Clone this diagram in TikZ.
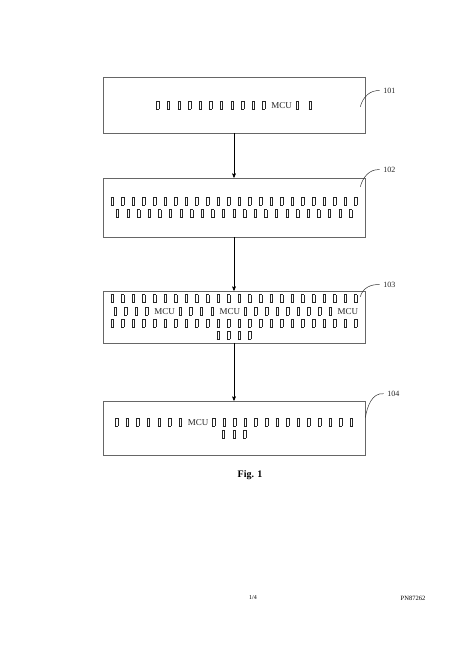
\documentclass[tikz,border=0pt]{standalone}
\usepackage{fontspec}
\setmainfont{Liberation Serif}
\usetikzlibrary{arrows,positioning}
% empty glyph box, as the scan prints the missing characters
\newcommand{\tf}{\makebox[10.6pt]{\setlength{\fboxsep}{0pt}\setlength{\fboxrule}{0.5pt}\fbox{\rule{0pt}{7.5pt}\hspace{2pt}}}}
\begin{document}
\begin{tikzpicture}[x=1pt,y=1pt]
	\useasboundingbox (0,0) rectangle (475,664);
	\begin{scope}[line width=0.6pt,
		on grid,>=stealth',
		stepbox/.style={rectangle,draw=black!60,minimum width=262pt,inner sep=0pt,align=center,text=black!85,font=\fontsize{9}{12.3}\selectfont},
		refnum/.style={font=\fontsize{8}{9}\selectfont,text=black!85},
		leader/.style={draw=black!80,line width=0.5pt}]
		\node [stepbox,minimum height=56pt]	(s101)	at (234,559)	{\tf\tf\tf\tf\tf\tf\tf\tf\tf\tf\tf\ MCU\tf\ \tf};
		\node [stepbox,minimum height=59pt]	(s102)	[below=102.5pt of s101]	{\tf\tf\tf\tf\tf\tf\tf\tf\tf\tf\tf\tf\tf\tf\tf\tf\tf\tf\tf\tf\tf\tf\tf\tf \\ \tf\tf\tf\tf\tf\tf\tf\tf\tf\tf\tf\tf\tf\tf\tf\tf\tf\tf\tf\tf\tf\tf\tf};
		\node [stepbox,minimum height=52pt]	(s103)	[below=109.5pt of s102]	{\tf\tf\tf\tf\tf\tf\tf\tf\tf\tf\tf\tf\tf\tf\tf\tf\tf\tf\tf\tf\tf\tf\tf\tf \\ \tf\tf\tf\tf\ MCU\tf\tf\tf\tf\ MCU\tf\tf\tf\tf\tf\tf\tf\tf\tf\ MCU \\ \tf\tf\tf\tf\tf\tf\tf\tf\tf\tf\tf\tf\tf\tf\tf\tf\tf\tf\tf\tf\tf\tf\tf\tf \\ \tf\tf\tf\tf};
		\node [stepbox,minimum height=54pt]	(s104)	[below=111pt of s103]	{\tf\tf\tf\tf\tf\tf\tf\ MCU\tf\tf\tf\tf\tf\tf\tf\tf\tf\tf\tf\tf\tf\tf \\ \tf\tf\tf};
		\path 
		(s101) edge [->]	(s102)
		(s102) edge [->]	(s103)
		(s103) edge [->]	(s104)
		;
		% reference numerals
		\node [refnum]	(l101)	[below right=14pt and 24pt of s101.north east,anchor=center]	{101};
		\node [refnum]	(l102)	[above right=8pt and 24pt of s102.north east,anchor=center]	{102};
		\node [refnum]	(l103)	[above right=6pt and 24pt of s103.north east,anchor=center]	{103};
		\node [refnum]	(l104)	[above right=7pt and 28pt of s104.north east,anchor=center]	{104};
		\coordinate [below left=30pt and 5pt of s101.north east]	(e101);
		\coordinate [below left=9pt and 5pt of s102.north east]	(e102);
		\coordinate [below left=6pt and 5pt of s103.north east]	(e103);
		\coordinate [below=17pt of s104.north east]	(e104);
		\path [leader]
		(l101.west) edge [out=175,in=75]	(e101)
		(l102.west) edge [out=175,in=75]	(e102)
		(l103.west) edge [out=175,in=75]	(e103)
		(l104.west) edge [out=175,in=80]	(e104)
		;
		\node [font=\fontsize{10}{12}\selectfont\bfseries]	(fig)	[below right=20pt and 16pt of s104.south,anchor=center]	{Fig. 1};
		\node [font=\fontsize{6}{7}\selectfont]	(page)	at (253,66)	{1/4};
		\node [font=\fontsize{6.5}{7}\selectfont]	(docno)	at (413,66)	{PN87262};
	\end{scope}
\end{tikzpicture}
\end{document}
